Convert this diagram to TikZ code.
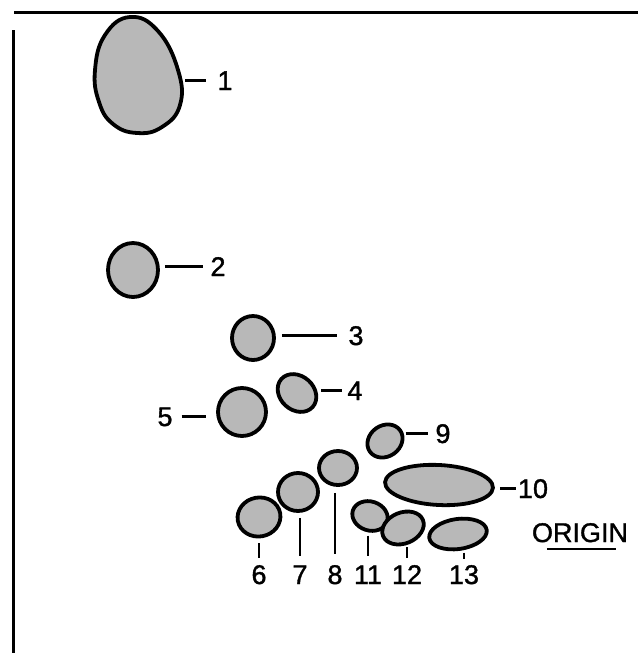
\documentclass[tikz,border=0pt]{standalone}
\usepackage{fontspec}
\setmainfont{Liberation Sans}
\newfontfamily\letterfont{Liberation Sans}[BoldFont={Liberation Sans}, BoldFeatures={FakeBold=1.3}]
\usetikzlibrary{shapes.geometric}
\tikzset{
  spot/.style={ellipse, draw=black, line width=3.8pt, fill=black!28, inner sep=0pt},
  lead/.style={draw=black, line width=2.8pt},
  num/.style={inner sep=0pt, anchor=base, font=\letterfont\bfseries\fontsize{27}{27}\selectfont},
  frame/.style={draw=black, line width=3pt}
}
\begin{document}
\begin{tikzpicture}[x=1pt, y=-1pt]
\useasboundingbox (0,0) rectangle (638,653);
% plate edges
\draw[frame] (14,12) -- (638,12);
\draw[frame] (13,30) -- (13,653);

% spot 1 (egg-shaped)
\filldraw[line width=3.8pt, fill=black!28]
  plot[smooth cycle, tension=0.75] coordinates {
    (130,17) (158,31) (178,70) (180,105) (162,127)
    (137,133) (113,124) (99,102) (95,70) (105,35)};
\coordinate (s1e) at (182,80);

% remaining spots
\node[spot, minimum width=50pt, minimum height=54pt] (s2) at (133,270) {};
\node[spot, minimum width=42pt, minimum height=44pt] (s3) at (253,338) {};
\node[spot, minimum width=42pt, minimum height=34pt, rotate=-42] (s4) at (297,393) {};
\node[spot, minimum width=48pt, minimum height=48pt] (s5) at (242,412) {};
\node[spot, minimum width=43pt, minimum height=39pt, rotate=10] (s6) at (259,517) {};
\node[spot, minimum width=40pt, minimum height=38pt] (s7) at (298,492) {};
\node[spot, minimum width=38pt, minimum height=34pt] (s8) at (338,468) {};
\node[spot, minimum width=37pt, minimum height=31pt, rotate=35] (s9) at (385,441) {};
\node[spot, minimum width=108pt, minimum height=40pt, rotate=-3] (s10) at (439,485) {};
\node[spot, minimum width=36pt, minimum height=29pt, rotate=-18] (s11) at (370,516) {};
\node[spot, minimum width=43pt, minimum height=31pt, rotate=22] (s12) at (403,528) {};
\node[spot, minimum width=58pt, minimum height=30pt, rotate=8] (s13) at (458,534) {};

% labels
\node[num] (l1) at (225,90) {1};
\node[num] (l2) at (218,276) {2};
\node[num] (l3) at (356,345) {3};
\node[num] (l4) at (355,400) {4};
\node[num] (l5) at (165,426) {5};
\node[num] (l9) at (443,443) {9};
\node[num] (l10) at (533,498) {10};
\node[num] (l6) at (259,584) {6};
\node[num] (l7) at (300,584) {7};
\node[num] (l8) at (335,584) {8};
\node[num] (l11) at (368,584) {11};
\node[num] (l12) at (407,584) {12};
\node[num] (l13) at (464,584) {13};
\node[num] (lo) at (580,542) {ORIGIN};
\draw[lead, line width=2pt] ([xshift=15pt,yshift=-7pt]lo.base west) -- ([xshift=84pt,yshift=-7pt]lo.base west);

% horizontal leaders
\draw[lead, shorten <=3pt, shorten >=11pt] (s1e |- l1.west) -- (l1.west);
\draw[lead, shorten <=5pt, shorten >=7pt] (s2.east |- l2.west) -- (l2.west);
\draw[lead, shorten <=6pt, shorten >=11pt] (s3.east |- l3.west) -- (l3.west);
\draw[lead, shorten <=7pt, shorten >=5pt] (s4.east |- l4.west) -- (l4.west);
\draw[lead, shorten <=9pt, shorten >=10pt] (l5.east) -- (s5.west |- l5.east);
\draw[lead, shorten <=4pt, shorten >=7pt] (s9.east |- l9.west) -- (l9.west);
\draw[lead, shorten <=5pt, shorten >=2pt] (s10.east |- l10.west) -- (l10.west);

% vertical leaders
\draw[lead, shorten <=5pt, shorten >=7pt] (s6.south -| l6.north) -- (l6.north);
\draw[lead, shorten <=5pt, shorten >=9pt] (s7.south -| l7.north) -- (l7.north);
\draw[lead, shorten <=6pt, shorten >=11pt] (s8.south -| l8.north) -- (l8.north);
\draw[lead, shorten <=4pt, shorten >=9pt] (s11.south -| l11.north) -- (l11.north);
\draw[lead, shorten <=3pt, shorten >=7pt] (s12.south -| l12.north) -- (l12.north);
\draw[lead, shorten <=2pt, shorten >=6pt] (s13.south -| l13.north) -- (l13.north);
\end{tikzpicture}
\end{document}
